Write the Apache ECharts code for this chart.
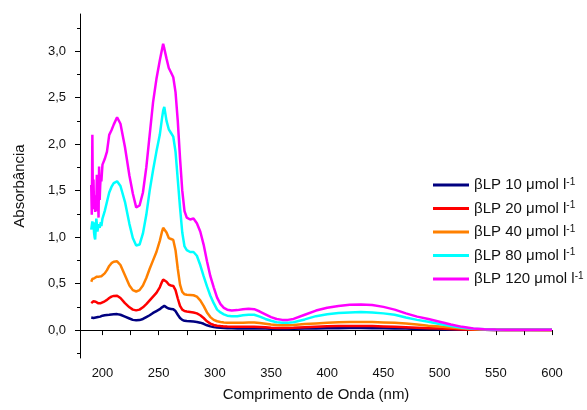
<!DOCTYPE html>
<html>
<head>
<meta charset="utf-8">
<script src="https://cdn.jsdelivr.net/npm/echarts@6/dist/echarts.min.js"></script>
<style>html,body{margin:0;padding:0;background:#fff}#c{width:587px;height:410px}</style>
</head>
<body>
<div id="c"></div>
<script>
// wavelength grid (nm)
const wavelengths = [
  190,190.5,191,191.5,192,192.5,193,193.5,194,194.5,195,195.5,196,196.5,197,197.5,198,198.5,199,
  200,202,204,206,208,210,213,216,220,224,
  227,230,233,236,239,242,245,248,251,253,
  254,255,257,259,261,263,265,267,269,271,
  273,275,278,281,284,287,290,293,296,299,
  302,305,308,311,315,320,325,330,335,340,
  345,350,355,360,365,370,380,390,400,410,
  420,430,440,450,460,470,480,490,500,510,
  520,530,540,550,560,580,600
];
const conc10 = [
  0.135,0.14,0.135,0.14,0.13,0.135,0.135,0.13,0.135,0.14,0.14,0.145,0.14,0.145,0.145,0.14,0.145,0.15,0.15,
  0.155,0.16,0.163,0.165,0.168,0.17,0.172,0.165,0.145,0.125,
  0.11,0.105,0.108,0.12,0.14,0.16,0.185,0.205,0.225,0.245,
  0.255,0.26,0.245,0.232,0.228,0.224,0.205,0.165,0.13,0.11,
  0.10,0.097,0.095,0.092,0.088,0.08,0.068,0.052,0.04,0.032,
  0.027,0.024,0.022,0.02,0.019,0.018,0.018,0.018,0.018,0.017,
  0.016,0.015,0.014,0.013,0.013,0.014,0.016,0.018,0.02,0.021,
  0.022,0.022,0.021,0.02,0.018,0.016,0.013,0.011,0.009,0.007,
  0.005,0.004,0.003,0.002,0.002,0.002,0.002
];
const conc20 = [
  0.29,0.30,0.305,0.30,0.31,0.305,0.31,0.30,0.305,0.30,0.30,0.295,0.29,0.29,0.285,0.29,0.29,0.29,0.295,
  0.30,0.31,0.325,0.345,0.36,0.368,0.37,0.345,0.29,0.245,
  0.22,0.212,0.22,0.245,0.28,0.32,0.36,0.40,0.46,0.52,
  0.545,0.555,0.52,0.49,0.48,0.475,0.43,0.34,0.26,0.22,
  0.205,0.20,0.195,0.19,0.18,0.16,0.13,0.095,0.07,0.055,
  0.047,0.043,0.04,0.038,0.036,0.035,0.035,0.036,0.036,0.033,
  0.03,0.026,0.024,0.023,0.024,0.026,0.032,0.037,0.041,0.044,
  0.045,0.045,0.043,0.04,0.036,0.031,0.026,0.021,0.016,0.011,
  0.007,0.005,0.003,0.002,0.002,0.002,0.002
];
const conc40 = [
  0.52,0.54,0.55,0.56,0.55,0.57,0.56,0.565,0.57,0.56,0.575,0.57,0.58,0.57,0.575,0.565,0.57,0.575,0.58,
  0.59,0.61,0.645,0.69,0.72,0.735,0.74,0.70,0.59,0.48,
  0.43,0.415,0.43,0.48,0.56,0.66,0.75,0.84,0.96,1.06,
  1.10,1.12,1.05,0.99,0.98,0.97,0.86,0.66,0.49,0.41,
  0.385,0.38,0.378,0.375,0.36,0.32,0.26,0.19,0.14,0.11,
  0.095,0.088,0.083,0.08,0.078,0.078,0.08,0.083,0.083,0.076,
  0.068,0.06,0.055,0.052,0.052,0.055,0.065,0.072,0.078,0.084,
  0.088,0.088,0.086,0.083,0.078,0.07,0.06,0.048,0.038,0.028,
  0.018,0.01,0.006,0.004,0.003,0.003,0.002
];
const conc80 = [
  1.08,1.10,1.17,1.12,1.16,1.05,1.00,0.975,1.10,1.20,1.14,1.06,1.08,1.14,1.16,1.10,1.13,1.16,1.12,
  1.20,1.28,1.38,1.48,1.54,1.58,1.60,1.55,1.38,1.14,
  0.99,0.91,0.92,1.04,1.24,1.50,1.72,1.92,2.10,2.28,
  2.36,2.40,2.25,2.16,2.12,2.08,1.92,1.62,1.32,1.05,
  0.90,0.86,0.84,0.84,0.80,0.70,0.58,0.47,0.37,0.29,
  0.22,0.19,0.17,0.155,0.15,0.15,0.16,0.165,0.165,0.145,
  0.12,0.10,0.085,0.08,0.08,0.085,0.115,0.15,0.17,0.185,
  0.19,0.195,0.19,0.18,0.165,0.135,0.11,0.09,0.065,0.045,
  0.025,0.014,0.008,0.005,0.004,0.003,0.003
];
const conc120 = [
  1.56,1.24,2.10,1.30,1.62,1.32,1.45,1.27,1.40,1.33,1.67,1.28,1.45,1.21,1.76,1.40,1.56,1.66,1.60,
  1.78,1.84,1.92,2.10,2.15,2.21,2.29,2.22,1.97,1.66,
  1.47,1.32,1.34,1.48,1.75,2.10,2.45,2.70,2.90,3.02,
  3.08,3.03,2.92,2.82,2.77,2.72,2.56,2.25,1.85,1.50,
  1.28,1.21,1.19,1.20,1.15,1.06,0.92,0.74,0.58,0.46,
  0.35,0.28,0.24,0.22,0.21,0.215,0.225,0.23,0.225,0.20,
  0.17,0.14,0.12,0.11,0.11,0.12,0.165,0.21,0.24,0.26,
  0.272,0.275,0.27,0.25,0.22,0.18,0.145,0.12,0.09,0.06,
  0.035,0.018,0.01,0.006,0.004,0.003,0.003
];
const seriesNames = ['βLP 10 μmol l-1','βLP 20 μmol l-1','βLP 40 μmol l-1','βLP 80 μmol l-1','βLP 120 μmol l-1'];
const seriesValues = [conc10, conc20, conc40, conc80, conc120];
const seriesColors = ['#000080','#FF0000','#FF8000','#00FFFF','#FF00FF'];

const xLabelValues = [200,250,300,350,400,450,500,550,600];
const xTickValues = [200,225,250,275,300,325,350,375,400,425,450,475,500,525,550,575,600];
const yLabelValues = [0,0.5,1.0,1.5,2.0,2.5,3.0];
const yMinorTickValues = [-0.25,0.25,0.75,1.25,1.75,2.25,2.75,3.25];

const font = 'Liberation Sans, Arial, sans-serif';
const chart = echarts.init(document.getElementById('c'), null, {renderer:'canvas'});
chart.setOption({
  animation: false,
  backgroundColor: '#fff',
  grid: {left: 80, right: 35, top: 14, bottom: 52},
  xAxis: {
    type: 'value', min: 180, max: 600,
    name: 'Comprimento de Onda (nm)', nameLocation: 'middle', nameGap: 29,
    nameTextStyle: {fontFamily: font, fontSize: 15, color: '#111'},
    axisLine: {show: true, lineStyle: {color: '#000', width: 1}},
    axisTick: {show: true, length: 5, lineStyle: {color: '#000'}, customValues: xTickValues},
    axisLabel: {customValues: xLabelValues, fontFamily: font, fontSize: 13, color: '#111', margin: 9},
    splitLine: {show: false}
  },
  yAxis: [{
    type: 'value', min: -0.3, max: 3.4,
    name: 'Absorbância', nameLocation: 'middle', nameGap: 53,
    nameTextStyle: {fontFamily: font, fontSize: 15, color: '#111'},
    axisLine: {show: true, lineStyle: {color: '#000', width: 1}},
    axisTick: {show: true, length: 5, lineStyle: {color: '#000'}, customValues: yLabelValues},
    axisLabel: {customValues: yLabelValues, fontFamily: font, fontSize: 13, color: '#111', margin: 14,
      formatter: v => v.toFixed(1).replace('.', ',')},
    splitLine: {show: false}
  },{
    type: 'value', min: -0.3, max: 3.4, position: 'left',
    axisLine: {show: false},
    axisTick: {show: true, length: 3, lineStyle: {color: '#000'}, customValues: yMinorTickValues},
    axisLabel: {show: false},
    splitLine: {show: false}
  }],
  legend: {
    orient: 'vertical', left: 428, top: 172,
    itemWidth: 36, itemHeight: 3, itemGap: 7.5,
    icon: 'rect',
    data: seriesNames,
    formatter: n => n.replace(/-1$/, '{sup|-1}'),
    textStyle: {
      fontFamily: font, fontSize: 15, color: '#111', lineHeight: 16,
      rich: {sup: {fontFamily: font, fontSize: 10, verticalAlign: 'top', lineHeight: 10, color: '#111'}}
    }
  },
  series: seriesNames.map((n, i) => ({
    name: n, type: 'line', xAxisIndex: 0, yAxisIndex: 0,
    showSymbol: false, symbol: 'none', smooth: false,
    lineStyle: {width: 2.5, color: seriesColors[i]},
    itemStyle: {color: seriesColors[i]},
    data: wavelengths.map((w, k) => [w, seriesValues[i][k]])
  }))
});
</script>
</body>
</html>
